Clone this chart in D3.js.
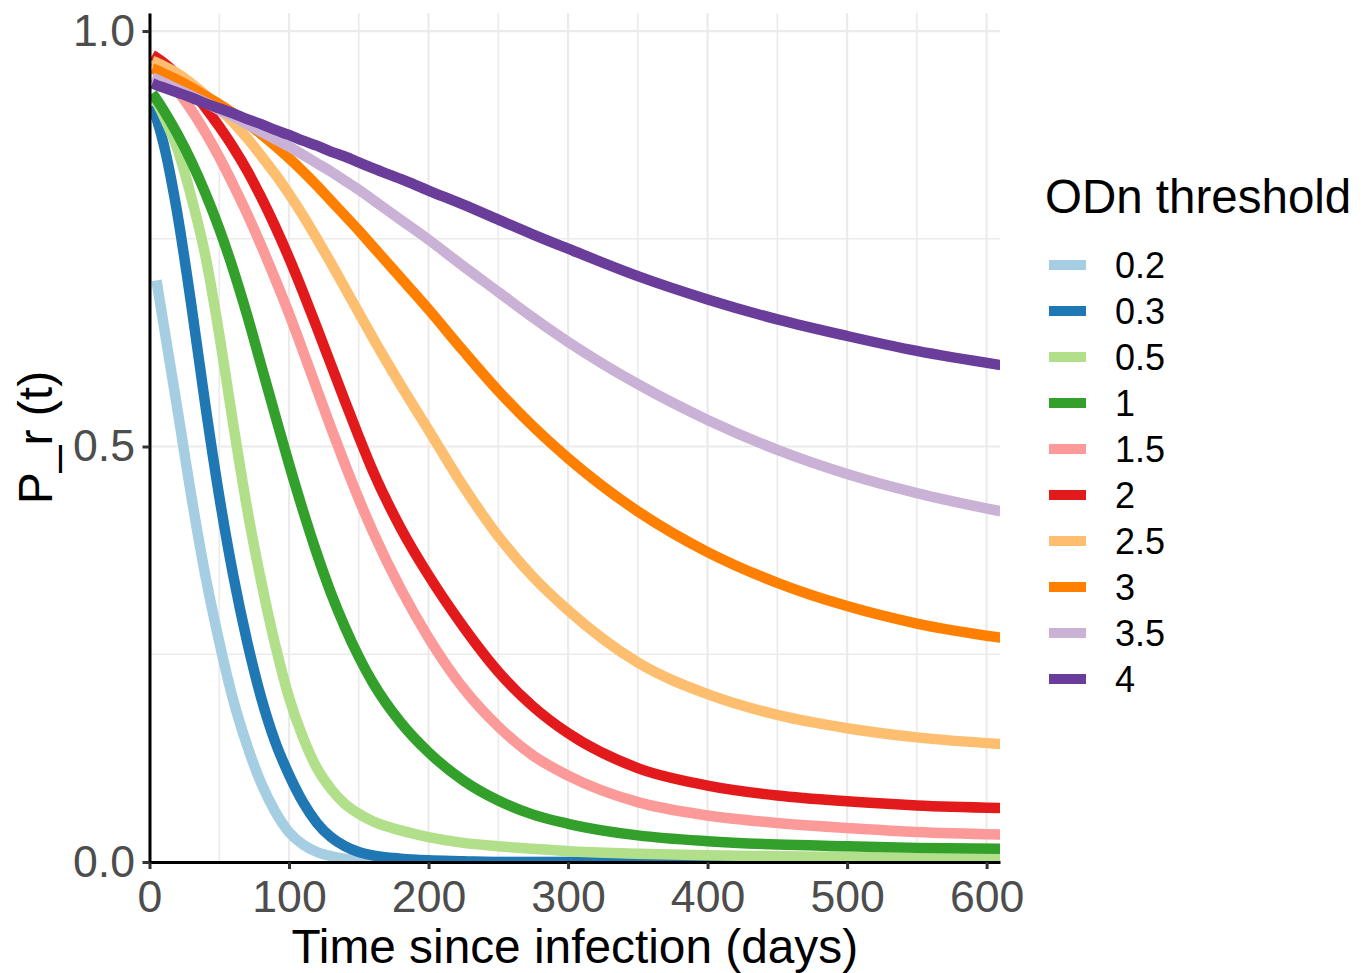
<!DOCTYPE html>
<html lang="en">
  <head>
    <meta charset="UTF-8" />
    <title>P_r (t) by ODn threshold</title>
    <style>
      body { margin: 0; background: #fff; }
      svg { display: block; font-family: "Liberation Sans", Arial, Helvetica, sans-serif; }
    </style>
  </head>
  <body>
    <svg width="1369" height="973"></svg>

    <script src="https://d3js.org/d3.v7.min.js"></script>
    <script>
      // days since infection, shared by every curve
      const days = [2, 5, 10, 20, 30, 40, 50, 60, 70, 80, 90, 100, 110, 120, 130, 140, 150, 160, 180, 200, 225, 250, 275, 300, 350, 400, 450, 500, 550, 610];

      const thresholds = ["0.2", "0.3", "0.5", "1", "1.5", "2", "2.5", "3", "3.5", "4"];
      const palette = ["#A6CEE3", "#1F78B4", "#B2DF8A", "#33A02C", "#FB9A99", "#E31A1C", "#FDBF6F", "#FF7F00", "#CAB2D6", "#6A3D9A"];

      // values
      const p02 = [null, 0.70, 0.648, 0.545, 0.44, 0.345, 0.265, 0.195, 0.14, 0.095, 0.061, 0.036, 0.021, 0.012, 0.007, 0.004, 0.003, 0.002, 0.001, 0, 0, 0, 0, 0, 0, 0, 0, 0, 0, 0];
      const p03 = [0.91, 0.895, 0.865, 0.78, 0.67, 0.55, 0.44, 0.345, 0.265, 0.198, 0.145, 0.105, 0.072, 0.047, 0.03, 0.019, 0.012, 0.008, 0.004, 0.002, 0.001, 0, 0, 0, 0, 0, 0, 0, 0, 0];
      const p05 = [0.922, 0.915, 0.898, 0.858, 0.80, 0.73, 0.635, 0.527, 0.425, 0.338, 0.262, 0.198, 0.15, 0.113, 0.088, 0.07, 0.058, 0.049, 0.038, 0.03, 0.023, 0.019, 0.016, 0.013, 0.010, 0.008, 0.007, 0.006, 0.005, 0.005];
      const p1 = [0.925, 0.918, 0.905, 0.876, 0.843, 0.805, 0.762, 0.713, 0.658, 0.598, 0.538, 0.479, 0.423, 0.371, 0.324, 0.283, 0.247, 0.216, 0.168, 0.132, 0.098, 0.074, 0.057, 0.046, 0.032, 0.025, 0.021, 0.019, 0.017, 0.016];
      const p15 = [0.955, 0.953, 0.946, 0.928, 0.905, 0.878, 0.848, 0.815, 0.78, 0.742, 0.702, 0.66, 0.615, 0.569, 0.523, 0.479, 0.437, 0.398, 0.329, 0.27, 0.209, 0.163, 0.128, 0.104, 0.072, 0.056, 0.047, 0.041, 0.036, 0.033];
      const p2 = [0.971, 0.968, 0.962, 0.947, 0.929, 0.908, 0.885, 0.86, 0.832, 0.80, 0.765, 0.727, 0.686, 0.643, 0.599, 0.555, 0.512, 0.471, 0.402, 0.345, 0.283, 0.229, 0.187, 0.155, 0.113, 0.092, 0.080, 0.073, 0.068, 0.065];
      const p25 = [0.964, 0.962, 0.958, 0.949, 0.937, 0.923, 0.907, 0.89, 0.871, 0.85, 0.828, 0.804, 0.778, 0.75, 0.721, 0.691, 0.661, 0.631, 0.574, 0.52, 0.452, 0.392, 0.343, 0.303, 0.24, 0.202, 0.177, 0.161, 0.15, 0.142];
      const p3 = [0.955, 0.953, 0.949, 0.941, 0.932, 0.922, 0.912, 0.901, 0.889, 0.876, 0.862, 0.847, 0.831, 0.814, 0.796, 0.778, 0.76, 0.741, 0.703, 0.665, 0.615, 0.567, 0.524, 0.486, 0.422, 0.373, 0.336, 0.308, 0.287, 0.27];
      const p35 = [0.944, 0.942, 0.938, 0.93, 0.922, 0.914, 0.905, 0.897, 0.888, 0.879, 0.87, 0.861, 0.851, 0.841, 0.831, 0.82, 0.809, 0.797, 0.773, 0.749, 0.717, 0.686, 0.655, 0.626, 0.575, 0.532, 0.496, 0.467, 0.444, 0.422];
      const p4 = [0.937, 0.935, 0.932, 0.926, 0.92, 0.913, 0.907, 0.901, 0.894, 0.888, 0.881, 0.875, 0.868, 0.862, 0.855, 0.849, 0.842, 0.835, 0.822, 0.808, 0.791, 0.773, 0.755, 0.738, 0.705, 0.677, 0.653, 0.633, 0.615, 0.598];

      const series = [p02, p03, p05, p1, p15, p2, p25, p3, p35, p4];

      const panel = { left: 149.5, right: 1000, top: 13, bottom: 862 };

      const svg = d3.select("svg");

      const x = d3.scaleLinear().domain([0, 609.6]).range([panel.left, panel.right]);
      const y = d3.scaleLinear().domain([0, 1.0217]).range([panel.bottom, panel.top]);

      // grid (minor first, then major)
      const grid = svg.append("g");
      const xMinor = d3.range(50, 610, 100);
      const yMinor = [0.25, 0.75];
      const xMajor = d3.range(0, 601, 100);
      const yMajor = [0, 0.5, 1];

      grid.selectAll(".vminor").data(xMinor).enter().append("line")
        .attr("x1", d => x(d)).attr("x2", d => x(d))
        .attr("y1", panel.top).attr("y2", panel.bottom)
        .attr("stroke", "#EBEBEB").attr("stroke-width", 1.6);
      grid.selectAll(".hminor").data(yMinor).enter().append("line")
        .attr("x1", panel.left).attr("x2", panel.right)
        .attr("y1", d => y(d)).attr("y2", d => y(d))
        .attr("stroke", "#EBEBEB").attr("stroke-width", 1.6);
      grid.selectAll(".vmajor").data(xMajor).enter().append("line")
        .attr("x1", d => x(d)).attr("x2", d => x(d))
        .attr("y1", panel.top).attr("y2", panel.bottom)
        .attr("stroke", "#EBEBEB").attr("stroke-width", 2.2);
      grid.selectAll(".hmajor").data(yMajor).enter().append("line")
        .attr("x1", panel.left).attr("x2", panel.right)
        .attr("y1", d => y(d)).attr("y2", d => y(d))
        .attr("stroke", "#EBEBEB").attr("stroke-width", 2.2);

      // clip lines to the panel
      svg.append("defs").append("clipPath").attr("id", "panel-clip")
        .append("rect")
        .attr("x", panel.left).attr("y", panel.top)
        .attr("width", panel.right - panel.left)
        .attr("height", panel.bottom - panel.top);

      const line = d3.line()
        .defined(d => d[1] !== null)
        .x(d => x(d[0]))
        .y(d => y(d[1]))
        .curve(d3.curveMonotoneX);

      svg.append("g").attr("clip-path", "url(#panel-clip)")
        .selectAll("path")
        .data(series)
        .enter()
        .append("path")
        .attr("d", vals => line(days.map((t, i) => [t, vals[i]])))
        .attr("fill", "none")
        .attr("stroke", (d, i) => palette[i])
        .attr("stroke-width", 10.5)
        .attr("stroke-linecap", "butt")
        .attr("stroke-linejoin", "round");

      // axes
      const xAxis = d3.axisBottom(x).tickValues(xMajor).tickSize(7).tickSizeOuter(0).tickPadding(11);
      const yAxis = d3.axisLeft(y).tickValues(yMajor).tickSize(7).tickSizeOuter(0).tickPadding(7.5)
        .tickFormat(d3.format(".1f"));

      const gx = svg.append("g").attr("transform", `translate(0,${panel.bottom})`).call(xAxis);
      const gy = svg.append("g").attr("transform", `translate(${panel.left},0)`).call(yAxis);

      [gx, gy].forEach(g => {
        g.select(".domain").attr("stroke", "#000").attr("stroke-width", 3);
        g.selectAll(".tick line").attr("stroke", "#333333").attr("stroke-width", 3);
        g.selectAll(".tick text")
          .attr("fill", "#4D4D4D")
          .style("font-size", "44.6px")
          .style("font-family", "'Liberation Sans', Arial, Helvetica, sans-serif");
      });

      // axis titles
      svg.append("text")
        .attr("x", (panel.left + panel.right) / 2)
        .attr("y", 963)
        .attr("text-anchor", "middle")
        .style("font-size", "47.8px")
        .text("Time since infection (days)");

      svg.append("text")
        .attr("transform", `translate(52,${(panel.top + panel.bottom) / 2}) rotate(-90)`)
        .attr("text-anchor", "middle")
        .style("font-size", "48px")
        .text("P_r (t)");

      // legend
      const legend = svg.append("g");
      legend.append("text")
        .attr("x", 1045)
        .attr("y", 213)
        .style("font-size", "47.5px")
        .text("ODn threshold");

      const items = legend.selectAll(".item")
        .data(thresholds)
        .enter()
        .append("g")
        .attr("transform", (d, i) => `translate(0,${265 + i * 46})`);

      items.append("line")
        .attr("x1", 1049).attr("x2", 1086)
        .attr("stroke", (d, i) => palette[i])
        .attr("stroke-width", 10);

      items.append("text")
        .attr("x", 1115)
        .attr("dy", "0.36em")
        .style("font-size", "36px")
        .text(d => d);
    </script>
  </body>
</html>
